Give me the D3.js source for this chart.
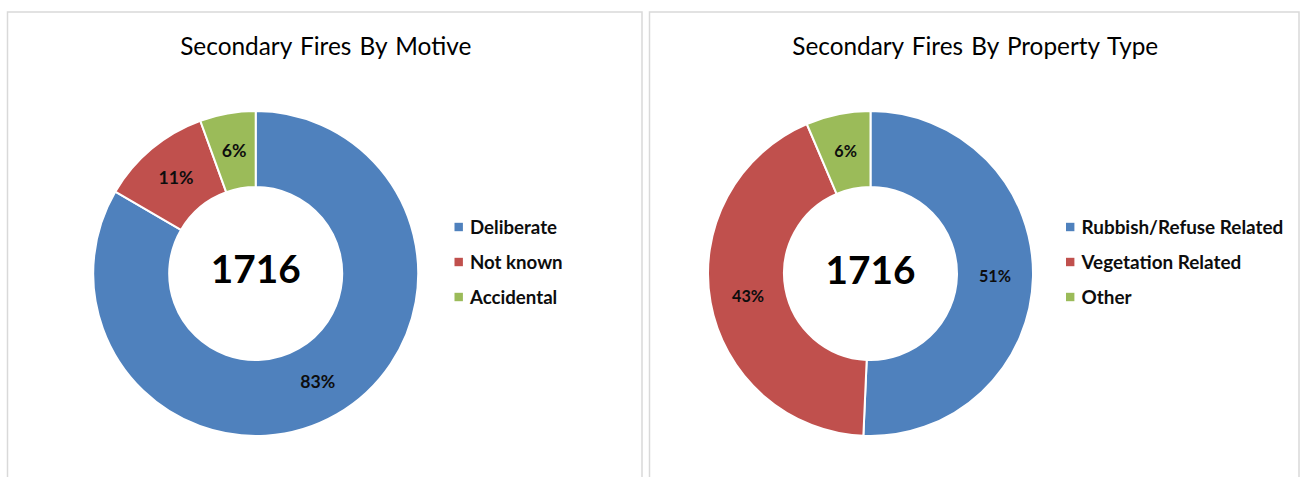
<!DOCTYPE html>
<html>
<head>
<meta charset="utf-8">
<script src="https://cdn.jsdelivr.net/npm/d3@7"></script>
<style>
  body { margin: 0; background: #fff; }
  text { font-family: Lato, "Open Sans", sans-serif; }
</style>
</head>
<body>
<svg id="chart"></svg>
<script>
// data
const motiveLabels = ["Deliberate", "Not known", "Accidental"];
const motiveCounts = [1431, 190, 95];
const propertyLabels = ["Rubbish/Refuse Related", "Vegetation Related", "Other"];
const propertyCounts = [870, 736, 110];
const titles = ["Secondary Fires By Motive", "Secondary Fires By Property Type"];
const colors = ["#4F81BD", "#C0504D", "#9BBB59"];

const width = 1302;
const height = 477;

const svg = d3.select("#chart")
    .attr("width", width)
    .attr("height", height);

// shrink or grow a text so it spans a given width
const fitWidth = (sel, w) => {
    const cur = sel.node().getComputedTextLength();
    const fs = parseFloat(sel.attr("font-size"));
    sel.attr("font-size", fs * w / cur);
    return fs * w / cur;
};

const panels = [
    {x0: 7.5, x1: 642, labels: motiveLabels, counts: motiveCounts, title: titles[0],
     cx: 255.7, cy: 273.5, titleW: 292, pctW: 35, legX: 454.5, legW: 87, legFit: 0},
    {x0: 649.5, x1: 1299, labels: propertyLabels, counts: propertyCounts, title: titles[1],
     cx: 870.5, cy: 273.5, titleW: 367, pctW: 32, legX: 1066, legW: 202, legFit: 0}
];

const outerR = 162.5;
const innerR = 86.5;

const pie = d3.pie().sort(null).value(d => d);
const arc = d3.arc().innerRadius(innerR).outerRadius(outerR);
const labelArc = d3.arc().innerRadius((innerR + outerR) / 2).outerRadius((innerR + outerR) / 2);

panels.forEach(p => {
    // panel frame, open at the bottom of the window
    svg.append("rect")
        .attr("x", p.x0)
        .attr("y", 12)
        .attr("width", p.x1 - p.x0)
        .attr("height", 520)
        .attr("fill", "none")
        .attr("stroke", "#d9d9d9")
        .attr("stroke-width", 1.5);

    const title = svg.append("text")
        .text(p.title)
        .attr("x", (p.x0 + p.x1) / 2 + 1)
        .attr("y", 55)
        .attr("text-anchor", "middle")
        .attr("font-size", 22)
        .attr("fill", "#000")
        .style("word-spacing", "2px");
    fitWidth(title, p.titleW);

    const total = d3.sum(p.counts);
    const arcs = pie(p.counts);

    const g = svg.append("g")
        .attr("transform", `translate(${p.cx}, ${p.cy})`);

    g.selectAll("path")
        .data(arcs)
        .enter()
        .append("path")
        .attr("d", arc)
        .attr("fill", (d, i) => colors[i])
        .attr("stroke", "#fff")
        .attr("stroke-width", 2);

    // percent labels
    const pct = g.selectAll("text.pct")
        .data(arcs)
        .enter()
        .append("text")
        .attr("class", "pct")
        .text(d => Math.round(d.data / total * 100) + "%")
        .attr("transform", d => `translate(${labelArc.centroid(d)})`)
        .attr("text-anchor", "middle")
        .attr("dy", "0.36em")
        .attr("font-size", 16)
        .attr("font-weight", "bold")
        .attr("fill", "#0d0d0d");
    const pctSize = fitWidth(d3.select(pct.nodes()[0]), p.pctW);
    pct.attr("font-size", pctSize);

    // total in the hole
    const mid = g.append("text")
        .text(total)
        .attr("text-anchor", "middle")
        .attr("y", 10)
        .attr("font-size", 40)
        .attr("font-weight", "bold")
        .attr("fill", "#000");
    const midSize = fitWidth(mid, 90);
    mid.attr("y", 283 - p.cy + (p === panels[1] ? 1 : 0));

    // legend
    const leg = svg.append("g");
    const rows = leg.selectAll("g")
        .data(p.labels)
        .enter()
        .append("g")
        .attr("transform", (d, i) => `translate(${p.legX}, ${227 + i * 35})`);
    rows.append("rect")
        .attr("x", 0)
        .attr("y", -4.2)
        .attr("width", 8.4)
        .attr("height", 8.4)
        .attr("fill", (d, i) => colors[i]);
    const legText = rows.append("text")
        .text(d => d)
        .attr("x", 15.5)
        .attr("dy", "0.36em")
        .attr("font-size", 16)
        .attr("font-weight", "bold")
        .attr("fill", "#0d0d0d");
    const legSize = fitWidth(d3.select(legText.nodes()[0]), p.legW);
    legText.attr("font-size", legSize);
});
</script>
</body>
</html>
